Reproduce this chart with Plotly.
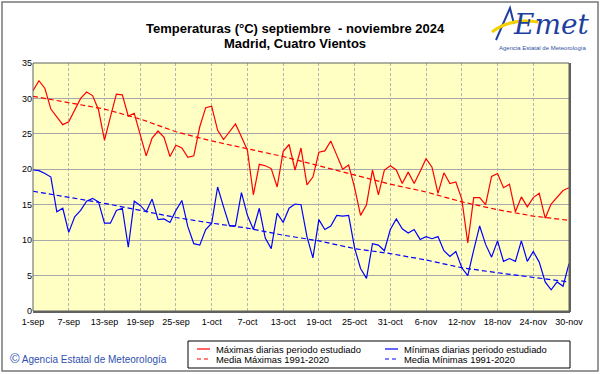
import plotly.graph_objects as go
import pandas as pd

# ---------------- data ----------------
dates = pd.date_range("2024-09-01", "2024-11-30", freq="D")

tmax = [31.1, 32.5, 31.4, 28.5, 27.4, 26.3, 26.7, 28.4, 30.0, 30.9,
        30.4, 28.4, 24.1, 27.4, 30.6, 30.5, 27.5, 27.9, 25.0, 21.9,
        24.4, 25.4, 24.5, 21.8, 23.4, 23.0, 21.7, 21.9, 26.0, 28.7,
        28.9, 25.5, 24.2, 25.3, 26.4, 24.6, 22.7, 16.4, 20.7, 20.5,
        20.1, 17.5, 22.5, 23.5, 19.9, 23.0, 17.8, 18.9, 22.4, 22.6,
        24.0, 22.0, 20.0, 20.6, 17.4, 13.5, 15.0, 19.9, 16.4, 19.9,
        20.5, 19.9, 18.0, 19.6, 18.0, 19.7, 21.5, 20.3, 16.6, 19.5,
        18.0, 18.2, 15.8, 9.6, 16.0, 16.0, 15.0, 19.0, 19.4, 17.4,
        17.9, 14.0, 16.1, 14.7, 16.0, 16.6, 13.1, 15.1, 16.1, 17.0,
        17.4]

tmin = [19.9, 19.8, 19.4, 18.9, 14.0, 14.5, 11.1, 13.3, 14.2, 15.5,
        15.9, 15.4, 12.4, 12.4, 14.2, 14.5, 9.0, 15.5, 14.9, 14.0,
        15.8, 12.9, 13.0, 12.5, 14.2, 15.6, 11.9, 9.5, 9.3, 11.5,
        12.4, 17.5, 14.7, 12.0, 12.0, 16.7, 13.5, 11.5, 14.5, 10.3,
        8.8, 13.8, 12.5, 14.5, 15.1, 15.0, 10.5, 7.5, 12.9, 11.5,
        12.0, 13.5, 13.4, 13.5, 8.9, 6.0, 4.6, 9.5, 9.3, 8.5,
        11.5, 13.0, 11.6, 11.0, 11.5, 10.1, 10.5, 10.2, 10.5, 8.5,
        7.7, 8.4, 6.1, 5.0, 8.6, 12.0, 9.4, 7.6, 9.9, 7.0,
        7.4, 7.0, 9.9, 7.0, 8.4, 6.9, 4.1, 3.0, 4.1, 3.5,
        6.7]

tick_dates = pd.date_range("2024-09-01", "2024-11-30", freq="6D")
tick_labels = ["1-sep", "7-sep", "13-sep", "19-sep", "25-sep", "1-oct",
               "7-oct", "13-oct", "19-oct", "25-oct", "31-oct", "6-nov",
               "12-nov", "18-nov", "24-nov", "30-nov"]

norm_max = [30.3, 29.4, 28.5, 27.1, 25.3, 24.0, 22.9, 21.8,
            20.5, 19.2, 17.9, 16.8, 15.4, 14.3, 13.4, 12.8]
norm_min = [16.9, 16.1, 15.2, 14.2, 13.2, 12.4, 11.7, 10.7,
            9.9, 8.8, 8.1, 7.2, 6.1, 5.4, 4.8, 4.1]

legend_labels = ["Máximas diarias periodo estudiado",
                 "Mínimas diarias periodo estudiado",
                 "Media Máximas 1991-2020",
                 "Media Mínimas 1991-2020"]

# ---------------- layout helpers ----------------
W, H = 601, 374
L, R, T, B = 33, 569, 63, 311
FONT = "Liberation Sans, Arial, sans-serif"


def px(x):
    return (x - L) / (R - L)


def py(y):
    return (B - y) / (B - T)


fig = go.Figure()
fig.add_trace(go.Scatter(x=dates, y=tmax, mode="lines",
                         line=dict(color="#FF0000", width=1.2), name=legend_labels[0]))
fig.add_trace(go.Scatter(x=dates, y=tmin, mode="lines",
                         line=dict(color="#0000FF", width=1.2), name=legend_labels[1]))
fig.add_trace(go.Scatter(x=tick_dates, y=norm_max, mode="lines",
                         line=dict(color="#FF0000", width=1.2, dash="5px,3px"),
                         name=legend_labels[2]))
fig.add_trace(go.Scatter(x=tick_dates, y=norm_min, mode="lines",
                         line=dict(color="#0000FF", width=1.2, dash="5px,3px"),
                         name=legend_labels[3]))

shapes = []
# outer frame
shapes.append(dict(type="rect", xref="paper", yref="paper",
                   x0=px(2), x1=px(598), y0=py(371), y1=py(2),
                   line=dict(color="#777777", width=1.5)))
# plot frame
shapes.append(dict(type="rect", xref="paper", yref="paper",
                   x0=0, x1=1, y0=0, y1=1,
                   line=dict(color="#606060", width=1)))
shapes.append(dict(type="line", xref="paper", yref="paper",
                   x0=px(33), x1=px(570), y0=py(312), y1=py(312),
                   line=dict(color="#606060", width=2)))
shapes.append(dict(type="line", xref="paper", yref="paper",
                   x0=px(570), x1=px(570), y0=py(63), y1=py(312),
                   line=dict(color="#606060", width=2)))

# legend box
shapes.append(dict(type="rect", xref="paper", yref="paper",
                   x0=px(188), x1=px(570), y0=py(368), y1=py(341),
                   line=dict(color="#000000", width=1), fillcolor="white"))
leg_pos = [(197, 349, "#FF0000", "solid"), (385, 349, "#0000FF", "solid"),
           (197, 359, "#FF0000", "dash"), (385, 359, "#0000FF", "dash")]
annotations = []
for (x0, y0, col, dash), lab in zip(leg_pos, legend_labels):
    shapes.append(dict(type="line", xref="paper", yref="paper",
                       x0=px(x0), x1=px(x0 + 13), y0=py(y0), y1=py(y0),
                       line=dict(color=col, width=1.2, dash="4px,3px" if dash == "dash" else "solid")))
    annotations.append(dict(xref="paper", yref="paper", x=px(x0 + 17), y=py(y0),
                            text=lab, showarrow=False, xanchor="left", yanchor="middle",
                            font=dict(family=FONT, size=9.4, color="#000000")))

# title
annotations.append(dict(xref="paper", yref="paper", x=px(295), y=py(28),
                        text="<b>Temperaturas (°C) septiembre  - noviembre 2024</b>",
                        showarrow=False, xanchor="center", yanchor="middle",
                        font=dict(family=FONT, size=13, color="#000000")))
annotations.append(dict(xref="paper", yref="paper", x=px(295), y=py(44),
                        text="<b>Madrid, Cuatro Vientos</b>",
                        showarrow=False, xanchor="center", yanchor="middle",
                        font=dict(family=FONT, size=13, color="#000000")))

# copyright
annotations.append(dict(xref="paper", yref="paper", x=px(8), y=py(358),
                        text="<span style='font-size:13px'>©</span> Agencia Estatal de Meteorología",
                        showarrow=False, xanchor="left", yanchor="middle",
                        font=dict(family=FONT, size=10, color="#3050B0")))

# logo
shapes.append(dict(type="path", xref="paper", yref="paper",
                   path=f"M {px(496)},{py(40)} L {px(510)},{py(8)} L {px(514)},{py(24)}",
                   line=dict(color="#1F3FA0", width=2)))
shapes.append(dict(type="path", xref="paper", yref="paper",
                   path=f"M {px(492)},{py(32)} Q {px(510)},{py(18)} {px(538)},{py(22)}",
                   line=dict(color="#F5D000", width=3)))
annotations.append(dict(xref="paper", yref="paper", x=px(551), y=py(25),
                        text="<i>Emet</i>", showarrow=False,
                        xanchor="center", yanchor="middle",
                        font=dict(family="DejaVu Serif, serif", size=28, color="#1F3FA0")))
annotations.append(dict(xref="paper", yref="paper", x=px(542), y=py(48),
                        text="Agencia Estatal de Meteorología", showarrow=False,
                        xanchor="center", yanchor="middle",
                        font=dict(family=FONT, size=6, color="#3050A0")))

fig.update_layout(
    width=W, height=H,
    margin=dict(l=L, r=W - R, t=T, b=H - B, pad=0),
    paper_bgcolor="white",
    plot_bgcolor="#FFFFC4",
    showlegend=False,
    shapes=shapes,
    annotations=annotations,
    font=dict(family=FONT, size=9, color="#000000"),
)
fig.update_xaxes(
    range=[dates[0], dates[-1]],
    tickvals=tick_dates, ticktext=tick_labels,
    showgrid=True, gridcolor="#B4B4B4", griddash="3px,2px", gridwidth=1,
    zeroline=False, showline=False, ticks="",
    ticklabelstandoff=4,
    tickfont=dict(family=FONT, size=9, color="#000000"),
    fixedrange=True,
)
fig.update_yaxes(
    range=[0, 35], dtick=5, tick0=0,
    showgrid=True, gridcolor="#A8A8A8", gridwidth=1,
    zeroline=False, showline=False, ticks="",
    tickfont=dict(family=FONT, size=9, color="#000000"),
    fixedrange=True,
)

fig.write_html("out.html", config={"displayModeBar": False},
               post_script="document.body.style.margin='0px';document.body.style.padding='0px';")
